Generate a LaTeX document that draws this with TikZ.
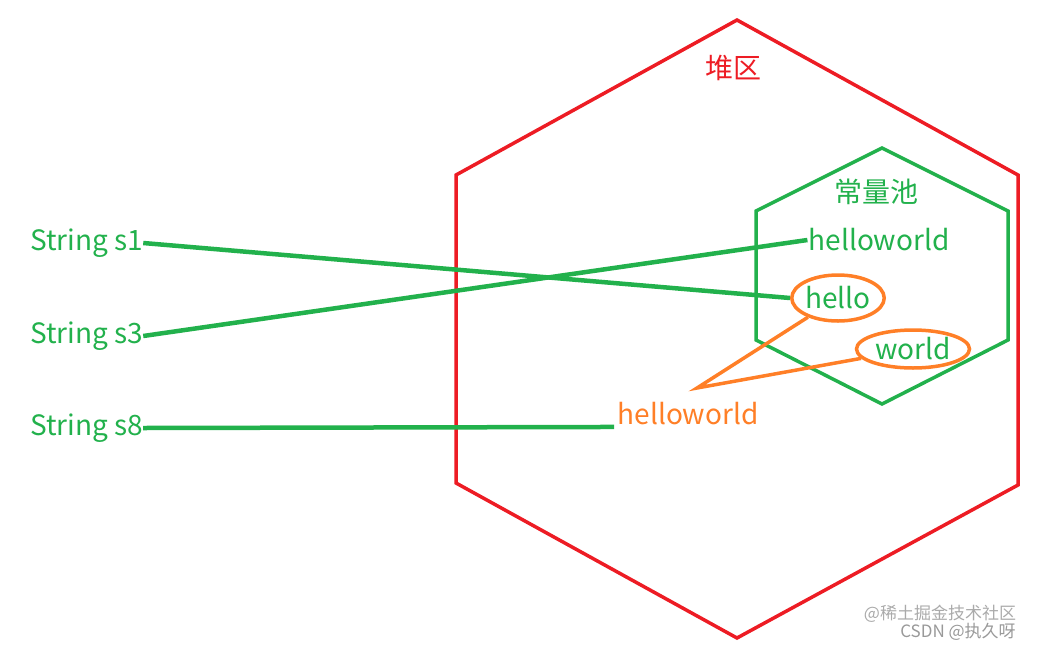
\documentclass[tikz,border=0pt]{standalone}
\usepackage{fontspec}
\setmainfont{Noto Sans CJK SC}
\usetikzlibrary{shapes.geometric}
\definecolor{pgreen}{RGB}{34,177,76}
\definecolor{pred}{RGB}{237,28,36}
\definecolor{porange}{RGB}{255,127,39}
\definecolor{wmark}{RGB}{170,170,170}

\begin{document}
\begin{tikzpicture}[x=1pt, y=-1pt, font=\fontsize{28}{32}\selectfont,
  var/.style={text=pgreen, anchor=west, inner sep=0pt},
  pool/.style={text=pgreen, inner sep=1pt},
  ell/.style={draw=porange, line width=3.5pt, ellipse, inner sep=0pt, text=pgreen},
  gl/.style={pgreen, line width=4.5pt},
  ol/.style={porange, line width=3.5pt},
  hex/.style={line width=3.5pt, line join=miter},
  wm/.style={text=wmark, font=\fontsize{17}{19}\selectfont, inner sep=0pt}]
\useasboundingbox (0,0) rectangle (1039,646);
\draw[hex, pred] (737,20) -- (1018,175) -- (1018,485) -- (737,638)
  -- (456,483) -- (456,175) -- cycle;
\draw[hex, pgreen] (882,148) -- (1008,211) -- (1008,340) -- (882,404)
  -- (756,340) -- (756,211) -- cycle;
\node[text=pred] (heap) at (733,68) {堆区};
\node[pool] (cpool) at (876,192) {常量池};
\node[pool] (hwpool) at (879,240) {helloworld};
\node[ell, minimum width=80pt, minimum height=46pt] (hello) at (838,298) {hello};
\node[ell, minimum width=113pt, minimum height=38pt] (world) at (913,349) {world};
\node[text=porange] (hwheap) at (688,414) {helloworld};
\node[var] (s1) at (30,243) {String s1};
\node[var] (s3) at (30,336) {String s3};
\node[var] (s8) at (30,428) {String s8};
\coordinate (join) at (697,388);
\draw[gl] (s1.east) -- (hello.west);
\draw[gl] (s3.east) -- (hwpool.west);
\draw[gl] (s8.east) -- ([yshift=-2pt]hwheap.base west);
\draw[ol] (hello) -- (join) -- (world);
\node[wm] (wm1) at (940,614) {@稀土掘金技术社区};
\node[wm, text=wmark!120] (wm2) at (958,632) {CSDN @执久呀};
\end{tikzpicture}
\end{document}
